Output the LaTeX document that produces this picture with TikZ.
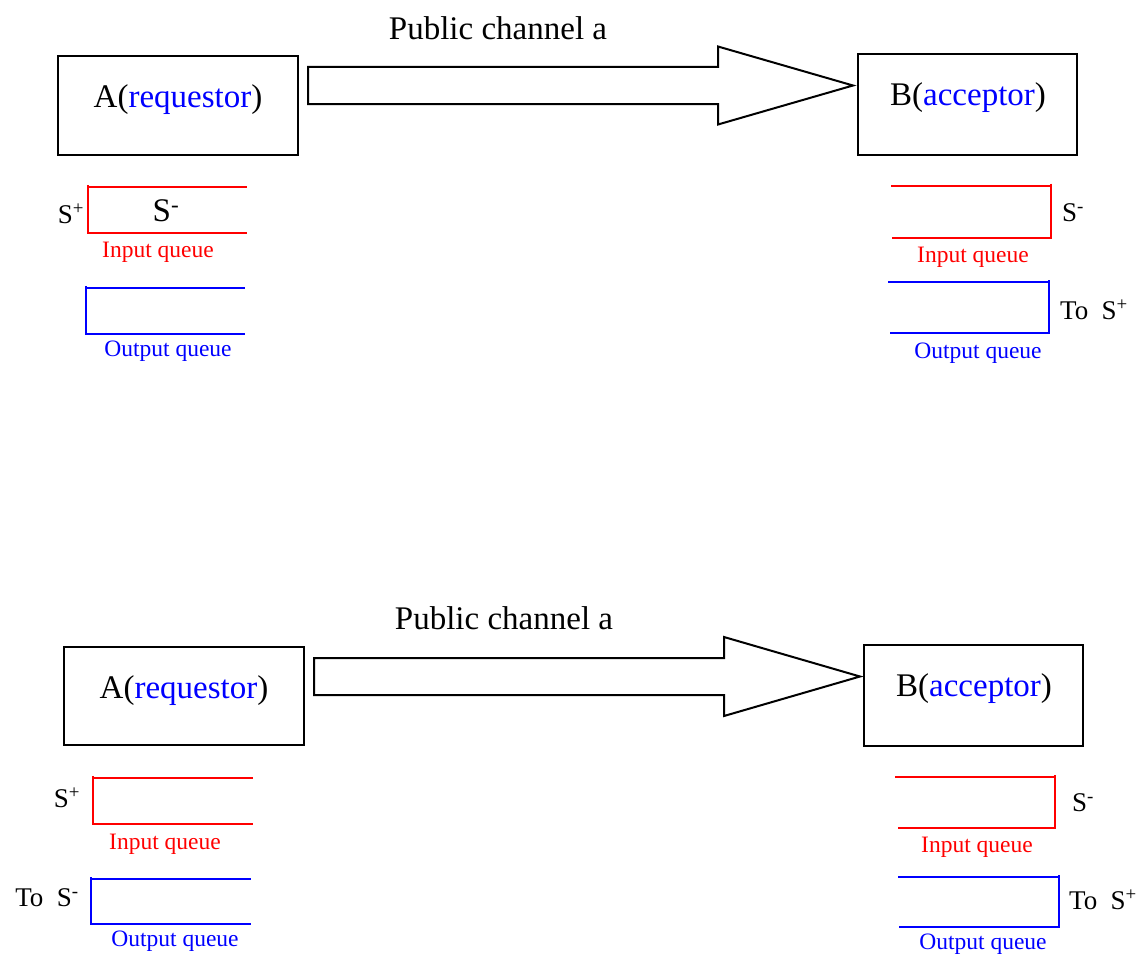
\documentclass[tikz,border=0pt]{standalone}
\usepackage{fontspec}
\setmainfont{Liberation Serif}
\usetikzlibrary{calc}

% fat "public channel" arrow: start x, head base x, tip x, mid y, shaft half, head half
\newcommand\chanarrow[6]{%
  \draw[fatarrow] (#1,#4-#5) -- (#2,#4-#5) -- (#2,#4-#6) -- (#3,#4)
    -- (#2,#4+#6) -- (#2,#4+#5) -- (#1,#4+#5) -- cycle;}

\begin{document}
\begin{tikzpicture}[x=1pt,y=-1pt,
  box/.style={draw, line width=1.8pt, inner sep=0pt},
  big/.style={font=\fontsize{33}{39}\selectfont, inner sep=0pt},
  side/.style={font=\fontsize{27}{31}\selectfont, inner sep=0pt},
  qred/.style={font=\fontsize{23.5}{27}\selectfont, text=red, inner sep=0pt},
  qblue/.style={font=\fontsize{23.5}{27}\selectfont, text=blue, inner sep=0pt},
  inq/.style={draw=red, line width=1.7pt},
  outq/.style={draw=blue, line width=1.7pt},
  fatarrow/.style={draw, line width=2pt, line join=miter, fill=white}]

\useasboundingbox (0,0) rectangle (1143,958);

% ---------------- upper scenario ----------------
\node[box, minimum width=240pt, minimum height=99pt] (A1) at (178,105.5) {};
\node[big] (A1t) at (178,100) {A(\textcolor{blue}{requestor})};
\node[box, minimum width=219pt, minimum height=101pt] (B1) at (967.5,104.5) {};
\node[big] (B1t) at (968,98) {B(\textcolor{blue}{acceptor})};
\node[big] (ch1) at (498,28) {Public channel a};
\chanarrow{308}{718}{853}{85.5}{18.5}{39}

% A side queues
\draw[inq] (88,185) -- (88,233) -- (246.5,233);
\draw[inq] (88,187) -- (246.5,187);
\node[side] (A1sp) at (71,214) {S\textsuperscript{+}};
\node[big] (A1sm) at (166,211) {S\textsuperscript{-}};
\node[qred] (A1in) at (158,252) {Input queue};
\draw[outq] (86,286) -- (86,334) -- (245,334);
\draw[outq] (86,288) -- (245,288);
\node[qblue] (A1out) at (168,351) {Output queue};

% B side queues
\draw[inq] (891,186) -- (1051,186);
\draw[inq] (1051,183.5) -- (1051,238) -- (892,238);
\node[side] (B1sm) at (1073,213) {S\textsuperscript{-}};
\node[qred] (B1in) at (973,257) {Input queue};
\draw[outq] (888,282) -- (1049,282);
\draw[outq] (1049,280) -- (1049,333) -- (890,333);
\node[side] (B1to) at (1094,310) {To\ \ S\textsuperscript{+}};
\node[qblue] (B1out) at (978,353) {Output queue};

% ---------------- lower scenario ----------------
\node[box, minimum width=240pt, minimum height=98pt] (A2) at (184,696) {};
\node[big] (A2t) at (184,691) {A(\textcolor{blue}{requestor})};
\node[box, minimum width=219pt, minimum height=101pt] (B2) at (973.5,695.5) {};
\node[big] (B2t) at (974,689) {B(\textcolor{blue}{acceptor})};
\node[big] (ch2) at (504,618) {Public channel a};
\chanarrow{314}{724}{860}{676.5}{18.5}{39.5}

% A side queues
\draw[inq] (93,776) -- (93,824) -- (253,824);
\draw[inq] (93,778) -- (253,778);
\node[side] (A2sp) at (67,798) {S\textsuperscript{+}};
\node[qred] (A2in) at (165,844) {Input queue};
\draw[outq] (91,877) -- (91,924) -- (250.5,924);
\draw[outq] (91,879) -- (250.5,879);
\node[side] (A2to) at (47,898) {To\ \ S\textsuperscript{-}};
\node[qblue] (A2out) at (175,941) {Output queue};

% B side queues
\draw[inq] (895,777) -- (1055,777);
\draw[inq] (1055,775) -- (1055,828) -- (897.5,828);
\node[side] (B2sm) at (1083,803) {S\textsuperscript{-}};
\node[qred] (B2in) at (977,847) {Input queue};
\draw[outq] (898,877) -- (1059,877);
\draw[outq] (1059,927) -- (899,927);
\draw[draw=blue, line width=2.6pt] (1059,875) -- (1059,928);
\node[side] (B2to) at (1103,900) {To\ \ S\textsuperscript{+}};
\node[qblue] (B2out) at (983,944) {Output queue};

\end{tikzpicture}
\end{document}
